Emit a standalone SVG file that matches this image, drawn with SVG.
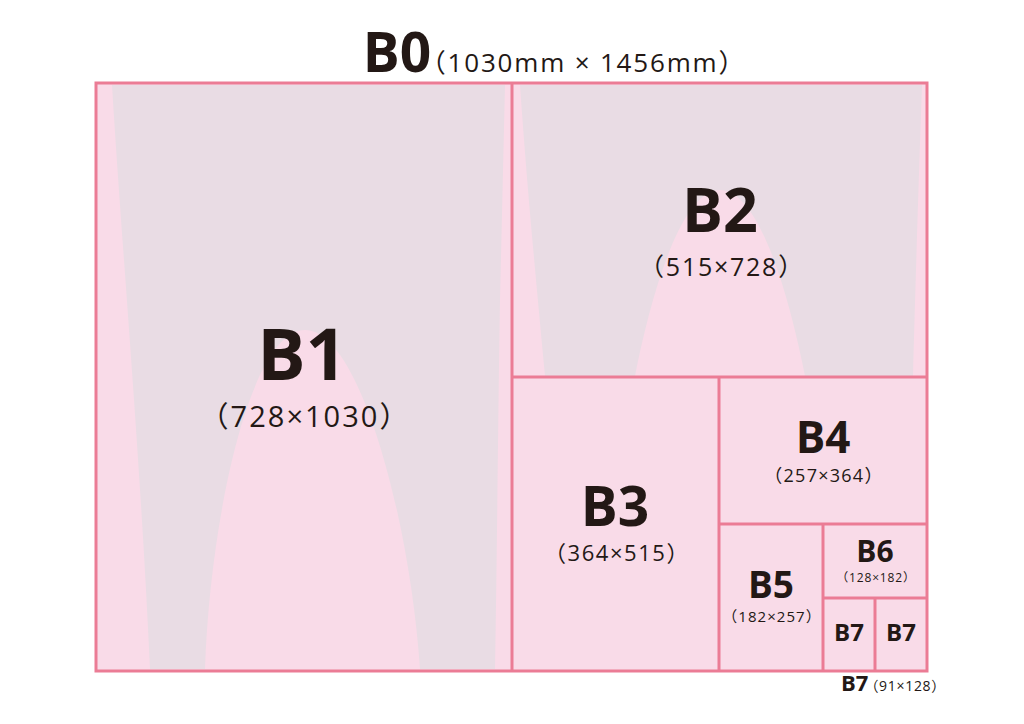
<svg xmlns="http://www.w3.org/2000/svg" width="1024" height="724" viewBox="0 0 1024 724">
<style>
.ln{stroke:#eb7c95;stroke-width:3;fill:none}
.b{font-family:"Open Sans","Noto Sans CJK JP",sans-serif;font-weight:bold;fill:#231815;text-anchor:middle}
.s{font-family:"Open Sans","Noto Sans CJK JP",sans-serif;fill:#231815;text-anchor:middle;letter-spacing:0.07em}
.g{fill:#e9dce4}
</style>
<rect width="1024" height="724" fill="#ffffff"/>
<rect x="96" y="83" width="831" height="588" fill="#f9dbe8"/>
<path class="g" d="M112 85 L505 85 L500 300 C498 420 497 560 495 669 L420 669 C410 520 360 330 305 330 C250 330 210 520 205 669 L150 669 C140 450 122 250 112 85 Z"/>
<path class="g" d="M520 85 L922 85 C918 200 915 300 913 376 L805 376 C790 300 760 190 720 190 C680 190 650 300 635 376 L545 376 C538 300 528 200 520 85 Z"/>
<g id="connectors">
<rect class="ln" x="96" y="83" width="831" height="588"/>
<line class="ln" x1="512" y1="83" x2="512" y2="671"/>
<line class="ln" x1="512" y1="377" x2="927" y2="377"/>
<line class="ln" x1="719" y1="377" x2="719" y2="671"/>
<line class="ln" x1="719" y1="524" x2="927" y2="524"/>
<line class="ln" x1="823" y1="524" x2="823" y2="671"/>
<line class="ln" x1="823" y1="598" x2="927" y2="598"/>
<line class="ln" x1="875" y1="598" x2="875" y2="671"/>
</g>
<g id="B0">
<text class="b" x="397" y="72" font-size="55">B0</text>
<text class="s" x="583" y="72" font-size="26">（1030mm × 1456mm）</text>
</g>
<g id="B1">
<text class="b" x="302" y="380" font-size="72">B1</text>
<text class="s" x="305" y="427" font-size="29">（728×1030）</text>
</g>
<g id="B2">
<text class="b" x="720" y="232" font-size="61">B2</text>
<text class="s" x="722" y="276" font-size="25">（515×728）</text>
</g>
<g id="B3">
<text class="b" x="615" y="526" font-size="55">B3</text>
<text class="s" x="617" y="561" font-size="22">（364×515）</text>
</g>
<g id="B4">
<text class="b" x="823" y="453" font-size="44">B4</text>
<text class="s" x="824" y="482" font-size="18">（257×364）</text>
</g>
<g id="B5">
<text class="b" x="771" y="598" font-size="37">B5</text>
<text class="s" x="772" y="622" font-size="15">（182×257）</text>
</g>
<g id="B6">
<text class="b" x="875" y="562" font-size="30">B6</text>
<text class="s" x="876" y="582" font-size="12">（128×182）</text>
</g>
<g id="B7a">
<text class="b" x="849" y="641" font-size="24">B7</text>
</g>
<g id="B7b">
<text class="b" x="901" y="641" font-size="24">B7</text>
</g>
<g id="B7label">
<text x="841" y="691" font-family="'Open Sans','Noto Sans CJK JP',sans-serif" fill="#231815"><tspan font-weight="bold" font-size="22">B7</tspan><tspan font-size="14" dx="-4" letter-spacing="0.05em">（91×128）</tspan></text>
</g>
</svg>
